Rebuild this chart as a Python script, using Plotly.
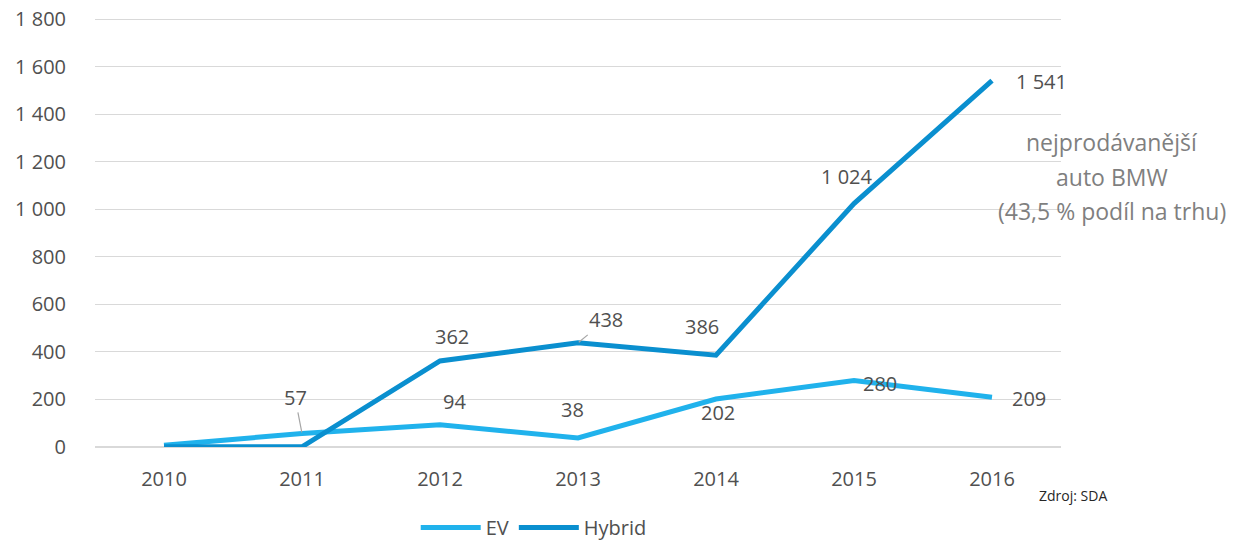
import plotly.graph_objects as go

years = ["2010", "2011", "2012", "2013", "2014", "2015", "2016"]
ev = [7, 57, 94, 38, 202, 280, 209]
hybrid = [1, 1, 362, 438, 386, 1024, 1541]
y_ticks = [0, 200, 400, 600, 800, 1000, 1200, 1400, 1600, 1800]

# label offsets in pixels (dx, dy up), None = no label
ev_label_off = [None, "arrow", (14, 23), (-6, 28), (2, -14), (26, -3), (37, -1)]
hy_label_off = [None, None, (12, 24), "arrow", (-14, 29), (-7, 27), (49, -1)]

note_lines = ["nejprodávanější", "auto BMW", "(43,5 % podíl na trhu)"]

EV_COLOR = "#20b2ec"
HY_COLOR = "#0a8fcf"
TXT = "#505050"
FONT = "Open Sans, sans-serif"


def fmt(v):
    return f"{v:,}".replace(",", " ")


fig = go.Figure()
fig.add_trace(go.Scatter(x=years, y=ev, mode="lines", name="EV",
                         line=dict(color=EV_COLOR, width=5)))
fig.add_trace(go.Scatter(x=years, y=hybrid, mode="lines", name="Hybrid",
                         line=dict(color=HY_COLOR, width=5)))

annotations = []
for key, series, offs in (("ev", ev, ev_label_off), ("hy", hybrid, hy_label_off)):
    for i, (v, off) in enumerate(zip(series, offs)):
        if off is None:
            continue
        if off == "arrow":
            if key == "ev":
                ax, ay = -7, -36
            else:
                ax, ay = 28, -23
            annotations.append(dict(x=i, y=v, xref="x", yref="y", text=fmt(v),
                                    showarrow=True, arrowhead=0, arrowwidth=1.2,
                                    arrowcolor="#a6a6a6", ax=ax, ay=ay, standoff=1,
                                    font=dict(size=20, color=TXT, family=FONT)))
        else:
            annotations.append(dict(x=i, y=v, xref="x", yref="y", text=fmt(v),
                                    showarrow=False, xshift=off[0], yshift=off[1],
                                    font=dict(size=20, color=TXT, family=FONT)))

for k, line in enumerate(note_lines):
    annotations.append(dict(x=1.053, y=1135, xref="paper", yref="y", xanchor="center",
                            yanchor="middle", yshift=35 - 34.5 * k,
                            text=line, showarrow=False,
                            font=dict(size=23, color="#7f7f7f", family=FONT)))
annotations.append(dict(x=1.012, y=-0.112, xref="paper", yref="paper",
                        text="Zdroj: SDA", showarrow=False, xanchor="center",
                        yanchor="middle",
                        font=dict(size=14, color="#262626", family=FONT)))

fig.update_layout(
    width=1251, height=542,
    margin=dict(l=95, r=190, t=17, b=95, autoexpand=False),
    plot_bgcolor="white", paper_bgcolor="white",
    separators=", ",
    font=dict(family=FONT, color=TXT, size=18),
    showlegend=True,
    legend=dict(orientation="h", x=0.332, xanchor="left", y=-0.187, yanchor="middle",
                font=dict(size=20, color=TXT, family=FONT), itemwidth=60,
                tracegroupgap=0),
    annotations=annotations,
)
fig.update_xaxes(type="category", range=[-0.5, 6.5], showgrid=False, showline=False,
                 zeroline=False, ticks="", ticklabelstandoff=18, automargin=False,
                 tickfont=dict(size=20, color=TXT, family=FONT))
fig.update_yaxes(range=[0, 1808.4], tickvals=y_ticks,
                 tickformat=",d", showgrid=True, ticklabeloverflow="allow",
                 gridcolor="#d9d9d9", gridwidth=1, zeroline=True, zerolinecolor="#d9d9d9",
                 showline=False, ticks="", ticklabelstandoff=28, automargin=False,
                 tickfont=dict(size=20, color=TXT, family=FONT))

fig.write_html("out.html", config={"displayModeBar": False},
               post_script="document.body.style.margin='0';document.body.style.overflow='hidden';")
